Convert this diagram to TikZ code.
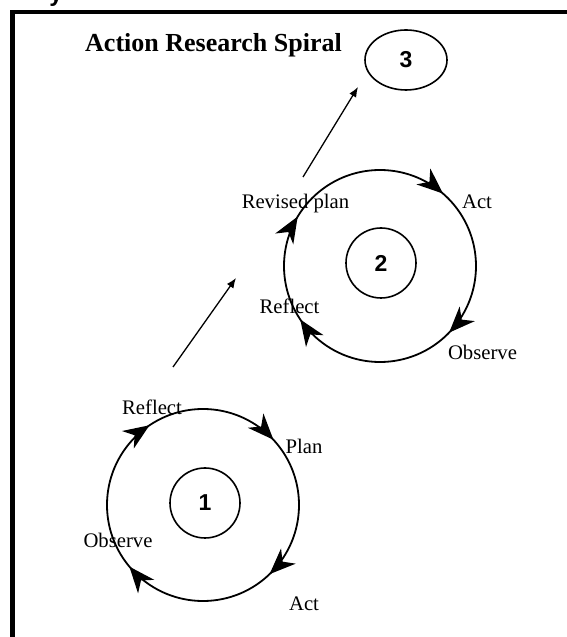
\documentclass[tikz,border=0pt]{standalone}
\usepackage{fontspec}
\setmainfont{Liberation Serif}
\newfontfamily\numfont{Liberation Sans}
\usetikzlibrary{arrows.meta,decorations.markings,shapes.geometric}

\tikzset{
  frameline/.style={line width=4.6pt, line cap=butt},
  cycletip/.tip={Stealth[length=26pt, width=21pt, inset=8pt]},
  cyclering/.style n args={4}{line width=1.8pt, postaction={decorate},
    decoration={markings,
      mark=at position #1 with {\arrow{cycletip}},
      mark=at position #2 with {\arrow{cycletip}},
      mark=at position #3 with {\arrow{cycletip}},
      mark=at position #4 with {\arrow{cycletip}}}},
  numcirc/.style={circle, draw, line width=1.6pt, minimum size=70pt,
    inner sep=0pt, font=\numfont\bfseries\fontsize{23}{23}\selectfont},
  numoval/.style={ellipse, draw, line width=1.6pt, minimum width=82pt,
    minimum height=60pt, inner sep=0pt, font=\numfont\bfseries\fontsize{23}{23}\selectfont},
  steplabel/.style={anchor=base, inner sep=0pt, font=\fontsize{20.7}{21}\selectfont},
  linkarrow/.style={line width=1.3pt, -{Latex[length=10pt, width=8pt]}},
}

\begin{document}
\begin{tikzpicture}[x=1pt, y=1pt]
\useasboundingbox (0,0) rectangle (566,637);

% page frame (only its top and left sides fall in view)
\draw[frameline] (12.5,-20) -- (12.5,625) -- (600,625);
\node[anchor=base, inner sep=0pt, font=\numfont\bfseries\fontsize{24}{24}\selectfont] (ytail) at (56,635) {y};

% title
\node[anchor=base west, inner sep=0pt, font=\bfseries\fontsize{26}{26}\selectfont] (title) at (85,585) {Action Research Spiral};

% cycle 1
\coordinate (c1) at (203,132);
\draw[cyclering={0.131}{0.378}{0.639}{0.906}] (c1) ++(90:96) arc[start angle=90, end angle=-270, radius=96];
\node[numcirc] (n1) at (205,134) {1};
\node[steplabel] (reflect1) at (152,222) {Reflect};
\node[steplabel] (plan1) at (304,183) {Plan};
\node[steplabel] (act1) at (304,27) {Act};
\node[steplabel] (observe1) at (118,89) {Observe};

% cycle 2
\coordinate (c2) at (380,371);
\draw[cyclering={0.114}{0.372}{0.656}{0.836}] (c2) ++(90:96) arc[start angle=90, end angle=-270, radius=96];
\node[numcirc] (n2) at (381,374) {2};
\node[steplabel] (revised2) at (295.5,428) {Revised plan};
\node[steplabel] (act2) at (477,428) {Act};
\node[steplabel] (observe2) at (482.5,277) {Observe};
\node[steplabel] (reflect2) at (289.5,323) {Reflect};

% cycle 3
\node[numoval] (n3) at (406,577) {3};

% links between cycles
\coordinate (a1s) at (173,270);
\coordinate (a1e) at (236,359);
\coordinate (a2s) at (303,460);
\coordinate (a2e) at (358,550);
\draw[linkarrow] (a1s) -- (a1e);
\draw[linkarrow] (a2s) -- (a2e);
\end{tikzpicture}
\end{document}
